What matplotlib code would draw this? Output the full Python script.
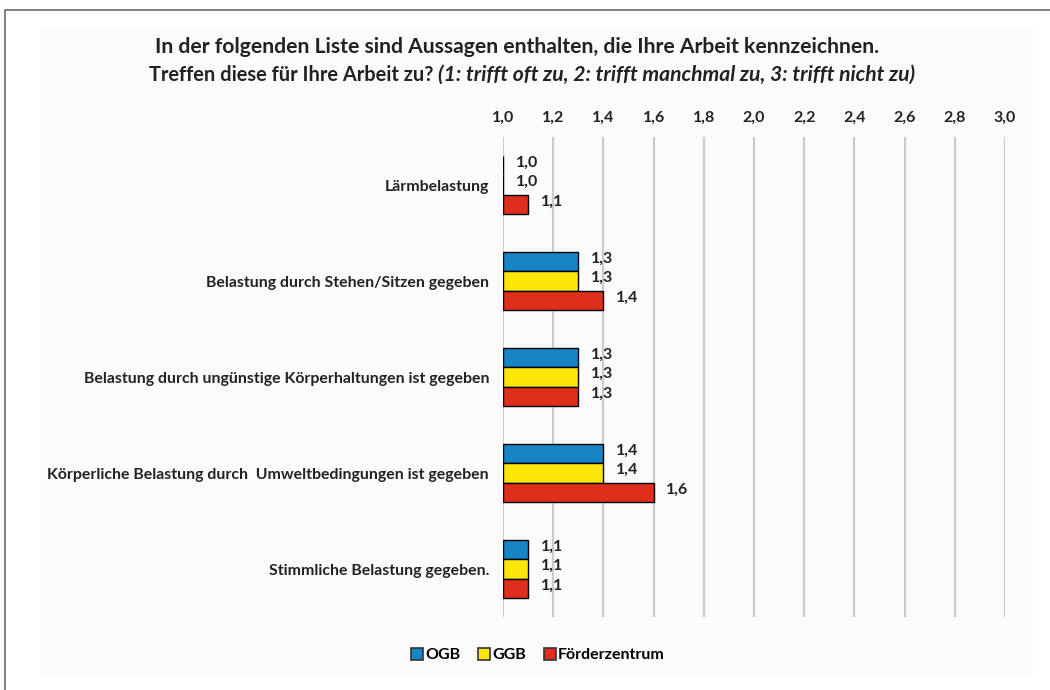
import matplotlib.pyplot as plt
import numpy as np
from matplotlib.patches import Rectangle
from matplotlib.lines import Line2D

plt.rcParams['font.family'] = ['Lato', 'DejaVu Sans']

categories = ['Lärmbelastung',
              'Belastung durch Stehen/Sitzen gegeben',
              'Belastung durch ungünstige Körperhaltungen ist gegeben',
              'Körperliche Belastung durch  Umweltbedingungen ist gegeben',
              'Stimmliche Belastung gegeben.']
series = ['OGB', 'GGB', 'Förderzentrum']
ogb = [1.0, 1.3, 1.3, 1.4, 1.1]
ggb = [1.0, 1.3, 1.3, 1.4, 1.1]
foerder = [1.1, 1.4, 1.3, 1.6, 1.1]
ticks = [1.0, 1.2, 1.4, 1.6, 1.8, 2.0, 2.2, 2.4, 2.6, 2.8, 3.0]

colors = ['#1585c6', '#fde60a', '#e02e1c']
txt = '#222222'

fig = plt.figure(figsize=(10.5, 6.9), dpi=100)
fig.patch.set_facecolor('white')
# inner chart area and outer frame (only top/left edges visible)
fig.patches.append(Rectangle((40/1050, 15/690), 993/1050, 648/690, transform=fig.transFigure,
                             facecolor='#fbfbfb', edgecolor='none', zorder=-1))
fig.lines.append(Line2D([5/1050, 5/1050, 1], [0, 1 - 10/690, 1 - 10/690], transform=fig.transFigure,
                        color='#7f7f7f', linewidth=1.4))

ax = fig.add_axes([503/1050, 1 - 617/690, 502/1050, 480/690])
ax.set_facecolor('none')

h = 0.2
y = np.arange(len(categories))
for i, (vals, c) in enumerate(zip([ogb, ggb, foerder], colors)):
    ypos = y + (i - 1) * h
    ax.barh(ypos, np.array(vals) - 1.0, left=1.0, height=h, color=c,
            edgecolor='black', linewidth=1.0, zorder=3, label=series[i])
    for yy, v in zip(ypos, vals):
        ax.text(v + 0.05, yy - 0.03, f'{v:.1f}'.replace('.', ','), va='center', ha='left',
                fontsize=11.5, fontweight='bold', color=txt, zorder=4)

ax.set_xlim(1.0, 3.0)
ax.set_ylim(len(categories) - 0.5, -0.5)
ax.set_xticks(ticks)
ax.set_xticklabels([f'{t:.1f}'.replace('.', ',') for t in ticks], fontsize=11.5,
                   fontweight='bold', color=txt)
ax.xaxis.tick_top()
ax.tick_params(axis='x', length=0, pad=9)
ax.set_yticks(y)
ax.set_yticklabels(categories, fontsize=11.4, fontweight='bold', color=txt)
ax.tick_params(axis='y', length=0, pad=10)
ax.grid(axis='x', color='#c5cdd4', linewidth=1.6, zorder=0)
for s in ax.spines.values():
    s.set_visible(False)

# title
fig.text(517/1050, 1 - 47/690, 'In der folgenden Liste sind Aussagen enthalten, die Ihre Arbeit kennzeichnen.',
         ha='center', va='center', fontsize=15.2, fontweight='bold', color=txt)
fig.text(433/1050, 1 - 75/690, 'Treffen diese für Ihre Arbeit zu?', ha='right', va='center',
         fontsize=14.4, fontweight='bold', color=txt)
fig.text(438/1050, 1 - 75/690, '(1: trifft oft zu, 2: trifft manchmal zu, 3: trifft nicht zu)',
         ha='left', va='center', fontsize=15.2, fontweight='bold', style='italic', color=txt)

handles = [Line2D([], [], marker='s', linestyle='none', markersize=8, markerfacecolor=c,
                  markeredgecolor='#333333', markeredgewidth=1.2) for c in colors]
fig.legend(handles, series, loc='center', bbox_to_anchor=(537/1050, 1 - 655/690), ncol=3,
           frameon=False, handletextpad=0.0, columnspacing=1.0, handlelength=1.0,
           prop={'weight': 'bold', 'size': 11.5})

fig.savefig('out.png', dpi=100)
